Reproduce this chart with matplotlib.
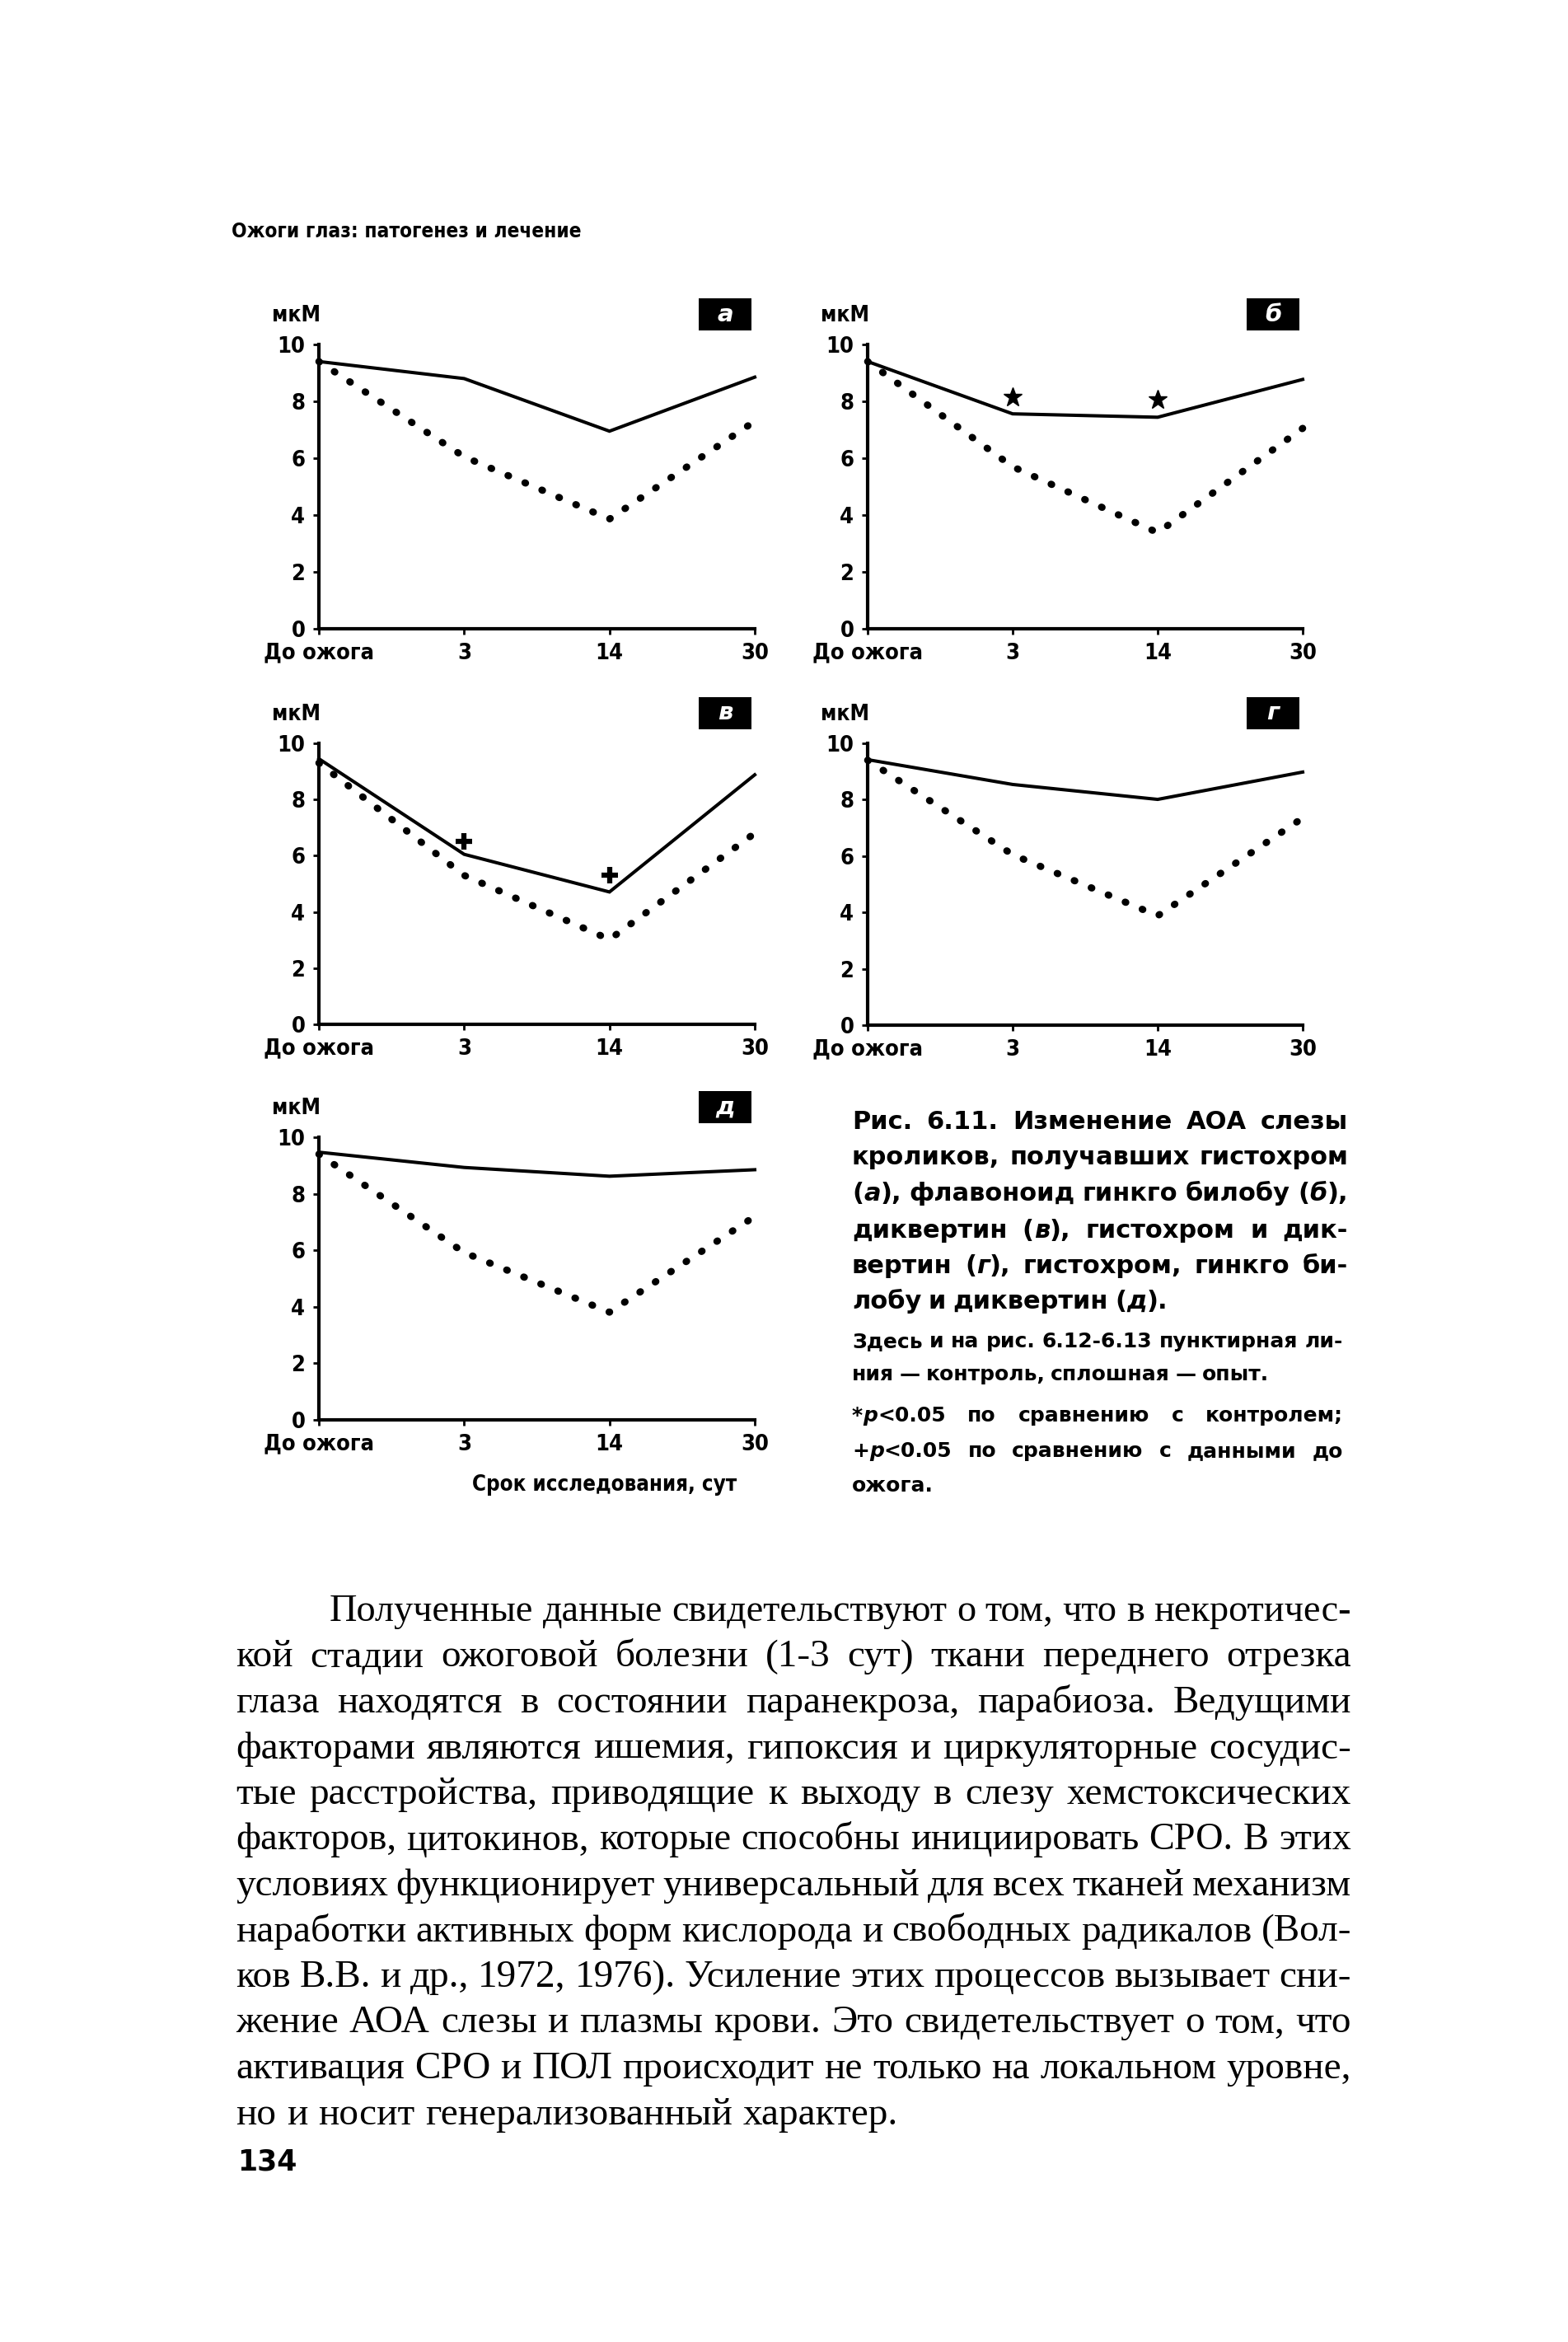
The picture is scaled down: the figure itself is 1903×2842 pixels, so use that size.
import matplotlib
matplotlib.use('Agg')
import matplotlib.pyplot as plt
from matplotlib.patches import Rectangle

W, H, DPI = 1903, 2842, 100

# x categories and y ticks
days = ['До ожога', '3', '14', '30']
yticks = [0, 2, 4, 6, 8, 10]

# values (мкМ): exp = solid (опыт), ctrl = dotted (контроль)
exp_a = [9.4, 8.8, 6.95, 8.85]
ctrl_a = [9.4, 6.05, 3.86, 7.3]
exp_b = [9.4, 7.56, 7.44, 8.77]
ctrl_b = [9.4, 5.7, 3.38, 7.05]
exp_v = [9.45, 6.05, 4.71, 8.88]
ctrl_v = [9.3, 5.3, 3.02, 6.8]
exp_g = [9.42, 8.54, 8.01, 8.98]
ctrl_g = [9.4, 6.05, 3.88, 7.35]
exp_d = [9.47, 8.93, 8.62, 8.85]
ctrl_d = [9.4, 5.92, 3.81, 7.2]

# significance marks
star_x = [1, 2]
star_y = [8.15, 8.07]
plus_x = [1, 2]
plus_y = [6.5, 5.3]

header = 'Ожоги глаз: патогенез и лечение'
unit = 'мкМ'
xlabel = 'Срок исследования, сут'
page_no = '134'

caption = ['Рис. 6.11. Изменение АОА слезы',
           'кроликов, получавших гистохром',
           '(_а_), флавоноид гинкго билобу (_б_),',
           'диквертин (_в_), гистохром и дик-',
           'вертин (_г_), гистохром, гинкго би-',
           'лобу и диквертин (_д_).']
note = ['Здесь и на рис. 6.12-6.13 пунктирная ли-',
        'ния — контроль, сплошная — опыт.',
        '*_p_<0.05 по сравнению с контролем;',
        '+_p_<0.05 по сравнению с данными до',
        'ожога.']
body = ['Полученные данные свидетельствуют о том, что в некротичес-',
        'кой стадии ожоговой болезни (1-3 сут) ткани переднего отрезка',
        'глаза находятся в состоянии паранекроза, парабиоза. Ведущими',
        'факторами являются ишемия, гипоксия и циркуляторные сосудис-',
        'тые расстройства, приводящие к выходу в слезу хемстоксических',
        'факторов, цитокинов, которые способны инициировать СРО. В этих',
        'условиях функционирует универсальный для всех тканей механизм',
        'наработки активных форм кислорода и свободных радикалов (Вол-',
        'ков В.В. и др., 1972, 1976). Усиление этих процессов вызывает сни-',
        'жение АОА слезы и плазмы крови. Это свидетельствует о том, что',
        'активация СРО и ПОЛ происходит не только на локальном уровне,',
        'но и носит генерализованный характер.']

CH = ['DejaVu Sans']
CAP = ['DejaVu Sans']
SERIF = ['Liberation Serif', 'DejaVu Serif']

fig = plt.figure(figsize=(W / DPI, H / DPI), dpi=DPI, facecolor='white')


def px(x, y):
    return x / W, 1 - y / H


def add_panel(box, exp, ctrl, letter):
    l, t, r, b = box
    ax = fig.add_axes([l / W, 1 - b / H, (r - l) / W, (b - t) / H])
    x = range(len(days))
    ax.plot(x, ctrl, color='black', lw=6.2, linestyle=(0, (0.1, 2.5)),
            dash_capstyle='round', clip_on=False)
    ax.plot(x, exp, color='black', lw=2.9, clip_on=False, solid_joinstyle='miter')
    ax.set_xlim(0, 3)
    ax.set_ylim(0, 10)
    for s in ['top', 'right']:
        ax.spines[s].set_visible(False)
    for s in ['left', 'bottom']:
        ax.spines[s].set_linewidth(3)
    ax.set_xticks(list(x))
    ax.set_xticklabels(days)
    ax.set_yticks(yticks)
    ax.tick_params(direction='out', length=5, width=2, pad=7, labelsize=19.5)
    for lab in ax.get_xticklabels() + ax.get_yticklabels():
        lab.set_family(CH)
        lab.set_fontweight('bold')
        lab.set_fontstretch('condensed')
    ax.patch.set_alpha(0)
    # unit label
    fig.text(*px(l - 57, t - 35), unit, family=CH, fontweight='bold',
             fontstretch='condensed', fontsize=19, ha='left', va='center')
    # black letter box
    bw, bh = 64, 39
    bx0, by1 = r - 4 - bw, t - 17
    fig.add_artist(Rectangle(px(bx0, by1), bw / W, bh / H,
                             transform=fig.transFigure, facecolor='black',
                             edgecolor='none'))
    fig.text(*px(bx0 + bw / 2, by1 - bh / 2), letter, color='white',
             fontsize=21, fontweight='bold', style='italic', family=['DejaVu Sans'],
             ha='center', va='center')
    return ax


ax_a = add_panel((387, 418, 916, 763), exp_a, ctrl_a, 'а')
ax_b = add_panel((1053, 418, 1581, 763), exp_b, ctrl_b, 'б')
ax_v = add_panel((387, 902, 916, 1243), exp_v, ctrl_v, 'в')
ax_g = add_panel((1053, 902, 1581, 1244), exp_g, ctrl_g, 'г')
ax_d = add_panel((387, 1380, 916, 1723), exp_d, ctrl_d, 'д')

ax_b.plot(star_x, star_y, linestyle='none', marker='*', ms=17, color='black', clip_on=False)
ax_v.plot(plus_x, plus_y, linestyle='none', marker='+', ms=14, mew=4.5, color='black', clip_on=False)

fig.text(*px(734, 1802), xlabel, family=CH, fontweight='bold', fontstretch='condensed',
         fontsize=18.5, ha='center', va='center')
fig.text(*px(281, 281), header, family=CH, fontweight='bold', fontstretch='condensed',
         fontsize=17.5, ha='left', va='center')
fig.text(*px(288, 2624), page_no, family=CAP, fontweight='bold', fontsize=25,
         ha='left', va='center')

renderer = fig.canvas.get_renderer()


def put_line(text, x0, x1, y, justify, family, size, weight):
    min_gap = 0.18 * size * DPI / 72
    while True:
        arts = []
        for w in text.split(' '):
            row = []
            for i, s in enumerate(w.split('_')):
                if s:
                    row.append(fig.text(0, 0, s, family=family, fontsize=size,
                                        fontweight=weight,
                                        style='italic' if i % 2 else 'normal',
                                        ha='left', va='baseline'))
            arts.append(row)
        widths = [[a.get_window_extent(renderer).width for a in row] for row in arts]
        total = sum(sum(ws) for ws in widths)
        n = len(arts) - 1
        if not justify or n == 0 or (x1 - x0 - total) / n >= min_gap:
            break
        # too long for the measure: shrink a little and try again
        for row in arts:
            for a in row:
                a.remove()
        size *= 0.98
    if justify and n > 0:
        gap = (x1 - x0 - total) / n
    else:
        gap = 0.27 * size * DPI / 72
    x = x0
    for row, ws in zip(arts, widths):
        for a, w in zip(row, ws):
            a.set_position(px(x, y))
            x += w
        x += gap


cap_y = [1370, 1413, 1457, 1502, 1545, 1588]
for i, line in enumerate(caption):
    put_line(line, 1034, 1636, cap_y[i], i < len(caption) - 1, CAP, 22, 'bold')

note_y = [1635, 1675, 1725, 1768, 1810]
for i, line in enumerate(note):
    put_line(line, 1034, 1630, note_y[i], i not in (1, 4), CH, 18, 'bold')

for i, line in enumerate(body):
    x0 = 400 if i == 0 else 286
    put_line(line, x0, 1640, 1967 + i * 55.5, i < len(body) - 1, SERIF, 34, 'normal')

fig.savefig('out.png', dpi=DPI, facecolor='white')
